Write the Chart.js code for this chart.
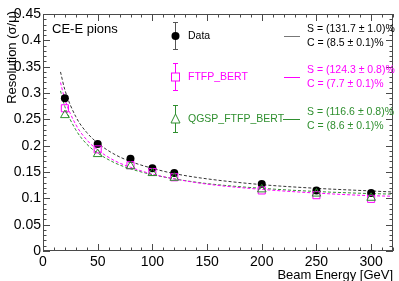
<!DOCTYPE html>
<html>
<head>
<meta charset="utf-8">
<script src="https://cdn.jsdelivr.net/npm/chart.js@4/dist/chart.umd.min.js"></script>
<style>
  html, body { margin: 0; padding: 0; background: #fff; }
  canvas { display: block; }
</style>
</head>
<body>
<canvas id="resChart" width="399" height="281"></canvas>
<script>
// beam energies (GeV) and measured resolutions
const energies = [20, 50, 80, 100, 120, 200, 250, 300];
const dataRes = [0.290, 0.203, 0.175, 0.157, 0.148, 0.127, 0.115, 0.110];
const ftfpRes = [0.271, 0.193, 0.163, 0.150, 0.140, 0.115, 0.106, 0.099];
const qgspRes = [0.258, 0.184, 0.161, 0.148, 0.139, 0.117, 0.109, 0.101];

// fit curves
const fitE = [16, 20, 30, 40, 50, 65, 80, 100, 120, 150, 200, 250, 300, 320];
const fitData = [0.340, 0.306, 0.255, 0.225, 0.205, 0.184, 0.170, 0.157, 0.147, 0.137, 0.126, 0.119, 0.114, 0.112];
const fitFtfp = [0.320, 0.288, 0.240, 0.211, 0.192, 0.172, 0.159, 0.146, 0.137, 0.127, 0.117, 0.110, 0.105, 0.104];
const fitQgsp = [0.304, 0.274, 0.230, 0.203, 0.186, 0.168, 0.156, 0.145, 0.137, 0.128, 0.119, 0.113, 0.109, 0.108];

const legendNames = ['Data', 'FTFP_BERT', 'QGSP_FTFP_BERT'];
const fitS = ['S = (131.7 \u00b1 1.0)%', 'S = (124.3 \u00b1 0.8)%', 'S = (116.6 \u00b1 0.8)%'];
const fitC = ['C = (8.5 \u00b1 0.1)%', 'C = (7.7 \u00b1 0.1)%', 'C = (8.6 \u00b1 0.1)%'];

const FONT = "'Liberation Sans', Arial, Helvetica, sans-serif";
const BLACK = '#000000';
const MAGENTA = '#ff00ff';
const GREEN = '#2f8f2f';
const FRAME = '#4a4a4a';

const pts = (xs, ys) => xs.map((x, i) => ({ x: x, y: ys[i] }));

// frame + ROOT style ticks on all four sides, titles, legend
const rootDecor = {
  id: 'rootDecor',
  afterDatasetsDraw(chart) {
    const { ctx, chartArea: a, scales: { x, y } } = chart;
    ctx.save();
    ctx.strokeStyle = FRAME;
    ctx.lineWidth = 1;
    ctx.strokeRect(a.left + 0.5, a.top + 0.5, a.right - a.left - 1, a.bottom - a.top - 1);
    ctx.beginPath();
    for (let v = 0; v <= 320.001; v += 10) {
      const px = Math.round(x.getPixelForValue(v)) + 0.5;
      const len = (Math.round(v) % 50 === 0) ? 7 : 3.5;
      ctx.moveTo(px, a.bottom); ctx.lineTo(px, a.bottom - len);
      ctx.moveTo(px, a.top); ctx.lineTo(px, a.top + len);
    }
    for (let k = 0; k <= 45; k++) {
      const py = Math.round(y.getPixelForValue(k / 100)) + 0.5;
      const len = (k % 5 === 0) ? 7 : 3.5;
      ctx.moveTo(a.left, py); ctx.lineTo(a.left + len, py);
      ctx.moveTo(a.right, py); ctx.lineTo(a.right - len, py);
    }
    ctx.stroke();

    // axis titles
    ctx.fillStyle = BLACK;
    ctx.font = '13px ' + FONT;
    ctx.textBaseline = 'middle';
    ctx.textAlign = 'right';
    ctx.fillText('Beam Energy [GeV]', a.right, 275);
    ctx.save();
    ctx.translate(12, a.top - 3);
    ctx.rotate(-Math.PI / 2);
    ctx.fillText('Resolution (\u03c3/\u03bc)', 0, 0);
    ctx.restore();

    ctx.textAlign = 'left';
    ctx.fillText('CE-E pions', 52, 29);

    // legend
    const cols = [BLACK, MAGENTA, GREEN];
    const barCols = ['#555555', MAGENTA, GREEN];
    const lineCols = ['#777777', MAGENTA, GREEN];
    const rows = [36, 77, 119];
    ctx.font = '10.5px ' + FONT;
    rows.forEach((ry, i) => {
      const mx = 175;
      ctx.strokeStyle = barCols[i];
      ctx.lineWidth = 1;
      ctx.beginPath();
      ctx.moveTo(mx + 0.5, ry - 13); ctx.lineTo(mx + 0.5, ry + 13);
      ctx.moveTo(mx - 2, ry - 13.5); ctx.lineTo(mx + 3, ry - 13.5);
      ctx.moveTo(mx - 2, ry + 13.5); ctx.lineTo(mx + 3, ry + 13.5);
      ctx.stroke();
      ctx.strokeStyle = cols[i];
      ctx.fillStyle = cols[i];
      if (i === 0) {
        ctx.beginPath(); ctx.arc(mx + 0.5, ry, 4, 0, Math.PI * 2); ctx.fill();
      } else if (i === 1) {
        ctx.fillStyle = '#fff';
        ctx.fillRect(mx - 3.5, ry - 4, 8, 8);
        ctx.strokeRect(mx - 3.5, ry - 4, 8, 8);
      } else {
        ctx.fillStyle = '#fff';
        ctx.beginPath();
        ctx.moveTo(mx + 0.5, ry - 5); ctx.lineTo(mx + 5, ry + 4); ctx.lineTo(mx - 4, ry + 4); ctx.closePath();
        ctx.fill(); ctx.stroke();
      }
      ctx.fillStyle = cols[i];
      ctx.fillText(legendNames[i], 188, ry);
      ctx.strokeStyle = lineCols[i];
      ctx.beginPath();
      ctx.moveTo(i === 2 ? 283 : 284, ry + 0.5); ctx.lineTo(300, ry + 0.5);
      ctx.stroke();
      ctx.fillText(fitS[i], 307, ry - 7);
      ctx.fillText(fitC[i], 307, ry + 7);
    });
    ctx.restore();
  }
};

const fitLine = (label, xs, ys, color) => ({
  type: 'line', label: label, data: pts(xs, ys),
  borderColor: color, borderWidth: 1, borderDash: [3, 2],
  pointRadius: 0, fill: false, cubicInterpolationMode: 'monotone', order: 10
});

new Chart(document.getElementById('resChart').getContext('2d'), {
  type: 'scatter',
  data: {
    datasets: [
      fitLine('Data fit', fitE, fitData, '#333333'),
      fitLine('FTFP_BERT fit', fitE, fitFtfp, MAGENTA),
      fitLine('QGSP_FTFP_BERT fit', fitE, fitQgsp, GREEN),
      {
        label: 'Data', data: pts(energies, dataRes),
        pointStyle: 'circle', pointRadius: 4, borderWidth: 0,
        backgroundColor: BLACK, borderColor: BLACK, order: 5
      },
      {
        label: 'FTFP_BERT', data: pts(energies, ftfpRes),
        pointStyle: 'rect', pointRadius: 5, borderWidth: 1,
        backgroundColor: 'rgba(255,255,255,0)', borderColor: MAGENTA, order: 4
      },
      {
        label: 'QGSP_FTFP_BERT', data: pts(energies, qgspRes),
        pointStyle: 'triangle', pointRadius: 5, borderWidth: 1,
        backgroundColor: 'rgba(255,255,255,0)', borderColor: GREEN, order: 3
      }
    ]
  },
  options: {
    responsive: false,
    animation: false,
    devicePixelRatio: 1,
    layout: { padding: { top: 14, right: 4, left: 0, bottom: 0 } },
    plugins: { legend: { display: false }, tooltip: { enabled: false } },
    scales: {
      x: {
        type: 'linear', min: 0, max: 320,
        grid: { display: false, drawTicks: false }, border: { display: false },
        afterBuildTicks: s => { s.ticks = [0, 50, 100, 150, 200, 250, 300].map(v => ({ value: v })); },
        afterFit: s => { s.height = 30; },
        ticks: { color: BLACK, font: { family: FONT, size: 14 }, padding: 3, maxRotation: 0 }
      },
      y: {
        type: 'linear', min: 0, max: 0.45,
        grid: { display: false, drawTicks: false }, border: { display: false },
        afterBuildTicks: s => { s.ticks = [0, 0.05, 0.1, 0.15, 0.2, 0.25, 0.3, 0.35, 0.4, 0.45].map(v => ({ value: v })); },
        afterFit: s => { s.width = 43; },
        ticks: {
          color: BLACK, font: { family: FONT, size: 14 }, padding: 2,
          callback: v => String(+v.toFixed(2))
        }
      }
    }
  },
  plugins: [rootDecor]
});
</script>
</body>
</html>
